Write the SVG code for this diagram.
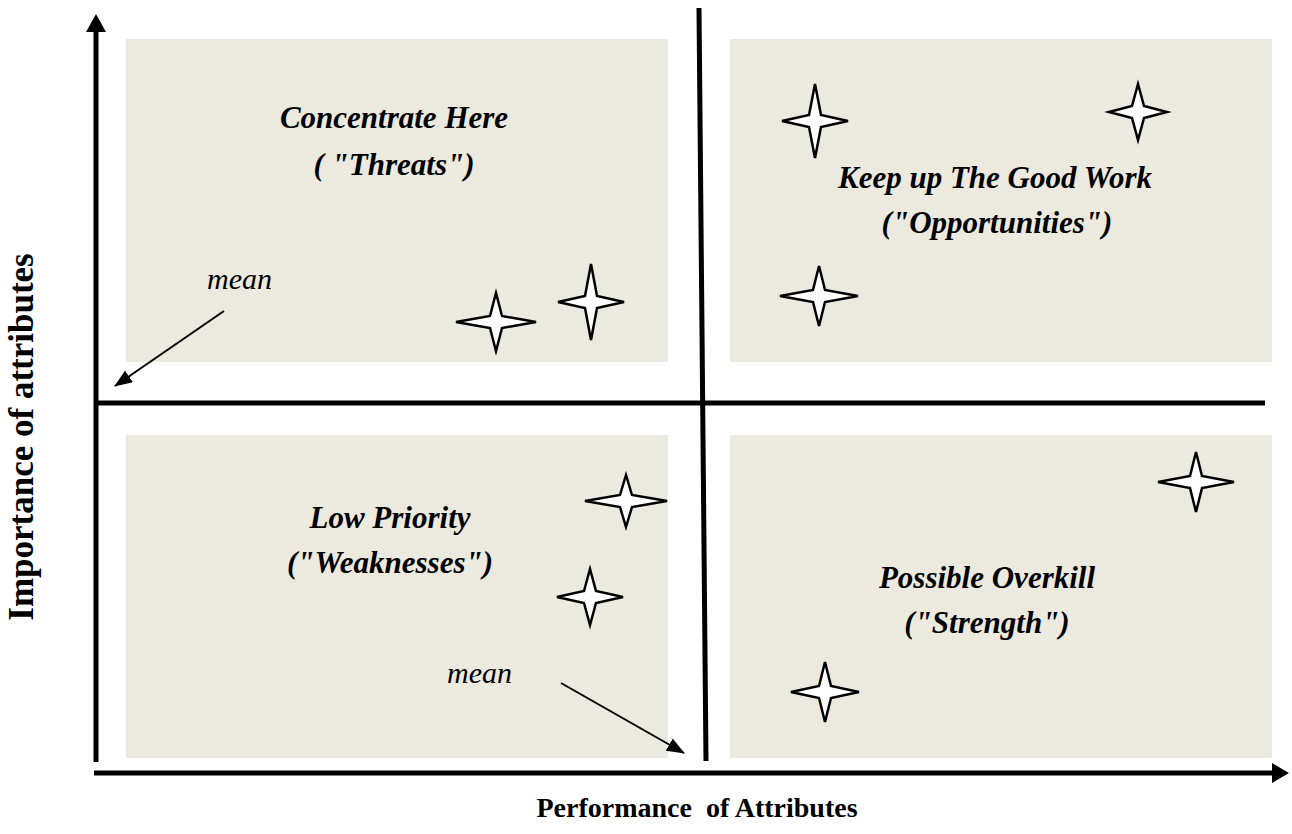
<svg xmlns="http://www.w3.org/2000/svg" width="1292" height="834" viewBox="0 0 1292 834">
  <style>
    .quad { fill: #ECE9DF; }
    .title { font-family: "Liberation Serif", "Times New Roman", serif; font-size: 31px; font-weight: bold; font-style: italic; fill: #000; text-anchor: middle; white-space: pre; }
    .axis-label { font-family: "Liberation Serif", "Times New Roman", serif; font-weight: bold; fill: #000; text-anchor: middle; white-space: pre; }
    .mean { font-family: "Liberation Serif", "Times New Roman", serif; font-size: 30px; font-style: italic; fill: #000; }
    .star { fill: #fff; stroke: #000; stroke-width: 2.5; stroke-linejoin: miter; }
    .axis { stroke: #000; stroke-width: 5; fill: none; }
    .pointer { stroke: #000; stroke-width: 2; fill: none; marker-end: url(#tri); }
  </style>
  <defs>
    <marker id="tri" viewBox="0 0 18 14" refX="17" refY="7" markerWidth="18" markerHeight="14" markerUnits="userSpaceOnUse" orient="auto">
      <path d="M0,0 L18,7 L0,14 Z" fill="#000"/>
    </marker>
  </defs>
  <rect width="1292" height="834" fill="#fff"/>

  <!-- quadrant panels -->
  <g id="q-threats">
    <rect class="quad" x="126" y="39" width="542" height="323"/>
    <text class="title" x="394" y="128">Concentrate Here</text>
    <text class="title" x="394" y="175">( "Threats")</text>
    <path class="star" d="M456,322 L490,316 L496,293 L502,316 L536,322 L502,328 L496,351 L490,328Z"/>
    <path class="star" d="M558,302 L585,296 L591,264 L597,296 L624,302 L597,308 L591,340 L585,308Z"/>
  </g>
  <g id="q-opportunities">
    <rect class="quad" x="730" y="39" width="542" height="323"/>
    <text class="title" x="995" y="188">Keep up The Good Work</text>
    <text class="title" x="997" y="233">("Opportunities")</text>
    <path class="star" d="M782,121 L809,115 L815,84 L821,115 L848,121 L821,127 L815,158 L809,127Z"/>
    <path class="star" d="M1109,112 L1132,106 L1138,84 L1144,106 L1167,112 L1144,118 L1138,140 L1132,118Z"/>
    <path class="star" d="M780,296 L813,290 L819,266 L825,290 L858,296 L825,302 L819,326 L813,302Z"/>
  </g>
  <g id="q-weaknesses">
    <rect class="quad" x="126" y="435" width="542" height="323"/>
    <text class="title" x="390" y="528">Low Priority</text>
    <text class="title" x="390" y="573">("Weaknesses")</text>
    <path class="star" d="M585,501 L620,495 L626,475 L632,495 L667,501 L632,507 L626,527 L620,507Z"/>
    <path class="star" d="M557,597 L584,591 L590,569 L596,591 L623,597 L596,603 L590,625 L584,603Z"/>
  </g>
  <g id="q-strength">
    <rect class="quad" x="730" y="435" width="542" height="323"/>
    <text class="title" x="987" y="588">Possible Overkill</text>
    <text class="title" x="987" y="633">("Strength")</text>
    <path class="star" d="M1158,482 L1190,476 L1196,452 L1202,476 L1234,482 L1202,488 L1196,512 L1190,488Z"/>
    <path class="star" d="M791,692 L819,686 L825,662 L831,686 L859,692 L831,698 L825,722 L819,698Z"/>
  </g>

  <!-- axes, dividers and mean pointers -->
  <g id="connectors">
    <line class="axis" x1="96" y1="762" x2="96" y2="30"/>
    <polygon points="96,14 86,32 106,32" fill="#000"/>
    <line class="axis" x1="94" y1="773" x2="1274" y2="773"/>
    <polygon points="1289,773 1272,763 1272,783" fill="#000"/>
    <line class="axis" x1="96" y1="403" x2="1265" y2="403"/>
    <line class="axis" x1="699" y1="8" x2="706" y2="761"/>
    <line class="pointer" x1="224" y1="311" x2="115" y2="386"/>
    <line class="pointer" x1="561" y1="683" x2="684" y2="753"/>
  </g>

  <g id="labels">
    <text class="mean" x="207" y="289">mean</text>
    <text class="mean" x="447" y="683">mean</text>
    <text class="axis-label" x="697" y="817" font-size="28">Performance  of Attributes</text>
    <text class="axis-label" font-size="35" transform="translate(33,437) rotate(-90)">Importance of attributes</text>
  </g>
</svg>
